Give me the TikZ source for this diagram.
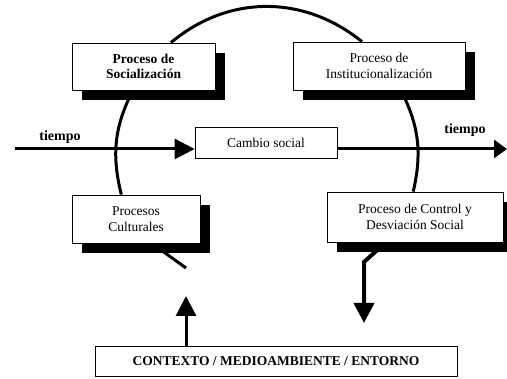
\documentclass[tikz,border=0pt]{standalone}
\usepackage{fontspec}
\setmainfont{Liberation Serif}
\usetikzlibrary{arrows.meta, positioning, shadows, backgrounds}

\begin{document}
\begin{tikzpicture}[x=1pt, y=-1pt,
    box/.style={draw, line width=0.8pt, fill=white, align=center, inner sep=2pt,
        font=\fontsize{13.5}{15.5}\selectfont},
    boldbox/.style={box, font=\fontsize{13.5}{15.5}\selectfont\bfseries},
    shade/.style={drop shadow={shadow xshift=10pt, shadow yshift=-10pt, fill=black, opacity=1}},
    ring/.style={line width=3pt},
    flow/.style={line width=3pt, -{Triangle[length=20pt, width=20pt]}},
    timelabel/.style={font=\fontsize{14}{16}\selectfont\bfseries}]
    \useasboundingbox (0,0) rectangle (507,379);

    % Boxes of the cycle
    \node[boldbox, shade, minimum width=143pt, minimum height=47pt] (soc) at (143.5,66.5) {Proceso de\\Socialización};
    \node[box, shade, minimum width=172pt, minimum height=48pt] (inst) at (379,66) {Proceso de\\Institucionalización};
    \node[box, shade, minimum width=128pt, minimum height=48pt] (cult) at (136,219) {Procesos\\Culturales};
    \node[box, shade, minimum width=176pt, minimum height=50pt] (ctrl) at (415,217) {Proceso de Control y\\Desviación Social};
    \node[box, minimum width=142pt, minimum height=31pt] (cambio) at (266,143) {Cambio social};
    \node[boldbox, minimum width=362pt, minimum height=30pt] (ctx) at (276,361) {CONTEXTO / MEDIOAMBIENTE / ENTORNO};

    % Time axis
    \coordinate (tl) at (15,149);
    \coordinate (tr) at (507,149);
    \draw[flow] (tl) -- (tl -| cambio.west);
    \draw[flow, -{Triangle[length=13pt, width=18pt]}] (tr -| cambio.east) -- (tr);
    \node[timelabel] (tleft) at (60,137) {tiempo};
    \node[timelabel] (tright) at (465,130) {tiempo};

    % Circle pieces, behind the boxes
    \coordinate (stub) at (186,268);
    \coordinate (kink) at (364,262);
    \coordinate (down) at (364,323);
    \begin{pgfonlayer}{background}
        \draw[ring] (soc.41) to[out=40, in=141] (inst.125);
        \draw[ring] (soc.246) to[out=243, in=104] (cult.121);
        \draw[ring] (inst.-48) to[out=-63, in=77] (ctrl.94);
        \draw[ring] (cult.-57) -- (stub);
        \draw[flow, line width=4pt] (ctrl.221) -- (kink) -- (down);
    \end{pgfonlayer}

    % Environment input
    \coordinate (up) at (186,296);
    \draw[flow] (ctx.north -| up) -- (up);
\end{tikzpicture}
\end{document}
